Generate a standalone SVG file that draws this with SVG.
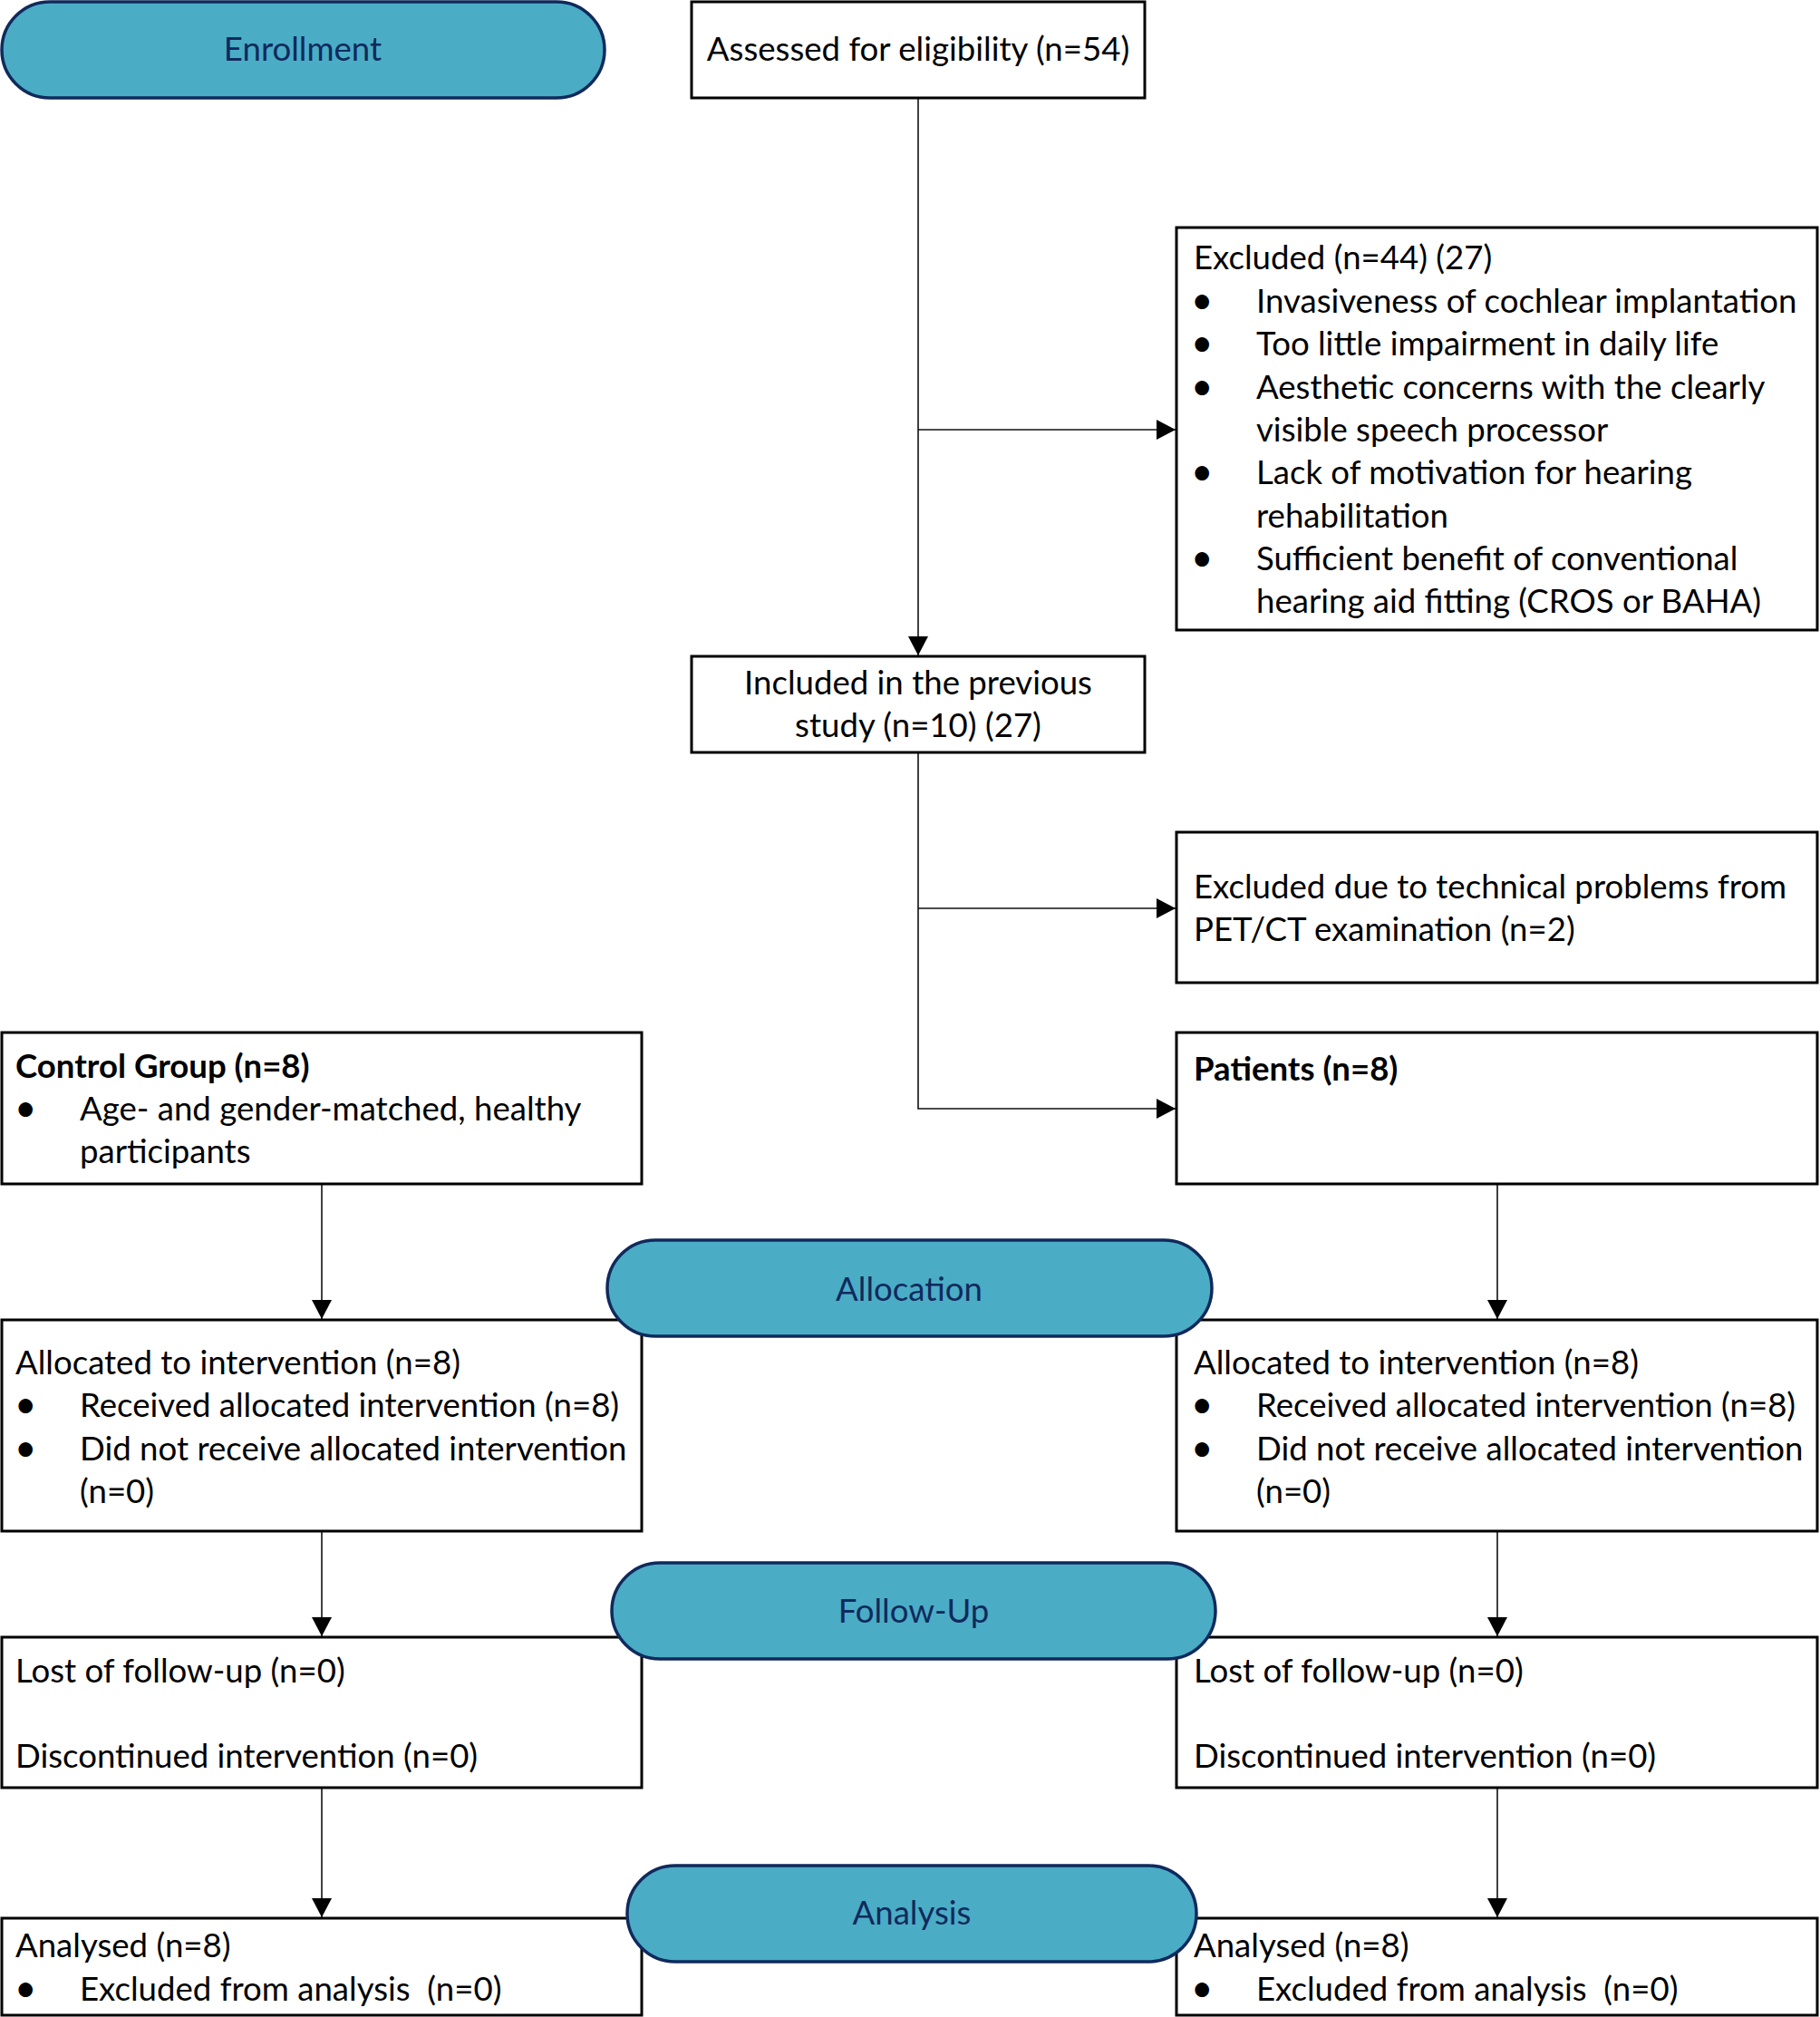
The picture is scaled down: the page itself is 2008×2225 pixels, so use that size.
<svg xmlns="http://www.w3.org/2000/svg" width="2008" height="2225" viewBox="0 0 2008 2225">
<style>
.box{fill:#fff;stroke:#000;stroke-width:3}
.pill{fill:#4BACC6;stroke:#102a5c;stroke-width:3.5}
text{font-family:Lato,"Open Sans","Liberation Sans",sans-serif;font-size:36.6px;fill:#000}
.pt{fill:#102a5c;text-anchor:middle}
.c{text-anchor:middle}
.b{font-weight:bold}
.bu{font-size:42px}
.conn{stroke:#111;stroke-width:1.6;fill:none}
</style>
<defs>
<marker id="ah" markerUnits="userSpaceOnUse" markerWidth="22" markerHeight="22" refX="21" refY="11" orient="auto">
<path d="M0,0 L21,11 L0,22 Z" fill="#000"/>
</marker>
</defs>
<rect width="2008" height="2225" fill="#fff"/>
<g id="connectors">
<line class="conn" x1="1013" y1="108" x2="1013" y2="723" marker-end="url(#ah)"/>
<line class="conn" x1="1013" y1="474" x2="1297" y2="474" marker-end="url(#ah)"/>
<polyline class="conn" points="1013,830 1013,1223 1297,1223" marker-end="url(#ah)"/>
<line class="conn" x1="1013" y1="1002" x2="1297" y2="1002" marker-end="url(#ah)"/>
<line class="conn" x1="355" y1="1306" x2="355" y2="1455" marker-end="url(#ah)"/>
<line class="conn" x1="355" y1="1689" x2="355" y2="1805" marker-end="url(#ah)"/>
<line class="conn" x1="355" y1="1972" x2="355" y2="2115" marker-end="url(#ah)"/>
<line class="conn" x1="1652" y1="1306" x2="1652" y2="1455" marker-end="url(#ah)"/>
<line class="conn" x1="1652" y1="1689" x2="1652" y2="1805" marker-end="url(#ah)"/>
<line class="conn" x1="1652" y1="1972" x2="1652" y2="2115" marker-end="url(#ah)"/>
</g>
<g id="assessed">
<rect class="box" x="763" y="2" width="500" height="106"/>
<text class="c" x="1013" y="67">Assessed for eligibility (n=54)</text>
</g>
<g id="excluded">
<rect class="box" x="1298" y="251" width="707" height="444"/>
<text x="1317" y="297">Excluded (n=44) (27)</text>
<text class="bu" x="1314" y="346">•</text><text x="1386" y="345">Invasiveness of cochlear implantation</text>
<text class="bu" x="1314" y="393">•</text><text x="1386" y="392">Too little impairment in daily life</text>
<text class="bu" x="1314" y="441">•</text><text x="1386" y="440">Aesthetic concerns with the clearly</text>
<text x="1386" y="487">visible speech processor</text>
<text class="bu" x="1314" y="535">•</text><text x="1386" y="534">Lack of motivation for hearing</text>
<text x="1386" y="582">rehabilitation</text>
<text class="bu" x="1314" y="630">•</text><text x="1386" y="629">Sufficient benefit of conventional</text>
<text x="1386" y="676">hearing aid fitting (CROS or BAHA)</text>
</g>
<g id="included">
<rect class="box" x="763" y="724" width="500" height="106"/>
<text class="c" x="1013" y="766">Included in the previous</text>
<text class="c" x="1013" y="813">study (n=10) (27)</text>
</g>
<g id="excluded-technical">
<rect class="box" x="1298" y="918" width="707" height="166"/>
<text x="1317" y="991">Excluded due to technical problems from</text>
<text x="1317" y="1038">PET/CT examination (n=2)</text>
</g>
<g id="control">
<rect class="box" x="2" y="1139" width="706" height="167"/>
<text class="b" x="17" y="1189">Control Group (n=8)</text>
<text class="bu" x="16" y="1237">•</text><text x="88" y="1236">Age- and gender-matched, healthy</text>
<text x="88" y="1283">participants</text>
</g>
<g id="patients">
<rect class="box" x="1298" y="1139" width="707" height="167"/>
<text class="b" x="1317" y="1192">Patients (n=8)</text>
</g>
<g id="allocated-control">
<rect class="box" x="2" y="1456" width="706" height="233"/>
<text x="17" y="1516">Allocated to intervention (n=8)</text>
<text class="bu" x="16" y="1564">•</text><text x="88" y="1563">Received allocated intervention (n=8)</text>
<text class="bu" x="16" y="1612">•</text><text x="88" y="1611">Did not receive allocated intervention</text>
<text x="88" y="1658">(n=0)</text>
</g>
<g id="allocated-patients">
<rect class="box" x="1298" y="1456" width="707" height="233"/>
<text x="1317" y="1516">Allocated to intervention (n=8)</text>
<text class="bu" x="1314" y="1564">•</text><text x="1386" y="1563">Received allocated intervention (n=8)</text>
<text class="bu" x="1314" y="1612">•</text><text x="1386" y="1611">Did not receive allocated intervention</text>
<text x="1386" y="1658">(n=0)</text>
</g>
<g id="lost-control">
<rect class="box" x="2" y="1806" width="706" height="166"/>
<text x="17" y="1856">Lost of follow-up (n=0)</text>
<text x="17" y="1950">Discontinued intervention (n=0)</text>
</g>
<g id="lost-patients">
<rect class="box" x="1298" y="1806" width="707" height="166"/>
<text x="1317" y="1856">Lost of follow-up (n=0)</text>
<text x="1317" y="1950">Discontinued intervention (n=0)</text>
</g>
<g id="analysed-control">
<rect class="box" x="2" y="2116" width="706" height="107"/>
<text x="17" y="2159">Analysed (n=8)</text>
<text class="bu" x="16" y="2208">•</text><text x="88" y="2207">Excluded from analysis&#160; (n=0)</text>
</g>
<g id="analysed-patients">
<rect class="box" x="1298" y="2116" width="707" height="107"/>
<text x="1317" y="2159">Analysed (n=8)</text>
<text class="bu" x="1314" y="2208">•</text><text x="1386" y="2207">Excluded from analysis&#160; (n=0)</text>
</g>
<g id="enrollment">
<rect class="pill" x="2" y="2" width="665" height="106" rx="53"/>
<text class="pt" x="334" y="67">Enrollment</text>
</g>
<g id="allocation">
<rect class="pill" x="670" y="1368" width="667" height="106" rx="53"/>
<text class="pt" x="1003" y="1435">Allocation</text>
</g>
<g id="follow-up">
<rect class="pill" x="675" y="1724" width="666" height="106" rx="53"/>
<text class="pt" x="1008" y="1790">Follow-Up</text>
</g>
<g id="analysis">
<rect class="pill" x="692" y="2058" width="628" height="106" rx="53"/>
<text class="pt" x="1006" y="2123">Analysis</text>
</g>
</svg>
